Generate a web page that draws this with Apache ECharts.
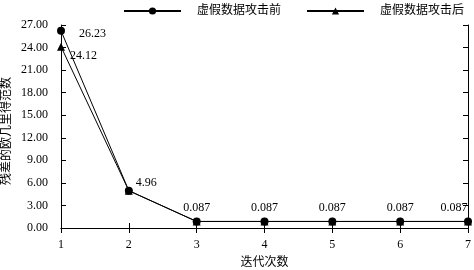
<!DOCTYPE html>
<html><head><meta charset="utf-8">
<script src="https://cdn.jsdelivr.net/npm/echarts@6/dist/echarts.min.js"></script>
<style>html,body{margin:0;padding:0;background:#fff}#c{width:474px;height:270px}</style>
</head><body><div id="c"></div>
<script>
var iterations = [1, 2, 3, 4, 5, 6, 7];
var beforeAttack = [26.23, 4.96, 0.87, 0.87, 0.87, 0.87, 0.87];
var afterAttack = [24.12, 4.96, 0.87, 0.87, 0.87, 0.87, 0.87];
var beforeLabels = ['26.23', '4.96', '0.087', '0.087', '0.087', '0.087', '0.087'];
var afterLabels = ['24.12', '', '', '', '', '', ''];
var seriesNames = ['虚假数据攻击前', '虚假数据攻击后'];

var FONT = '"Liberation Serif", "Noto Sans CJK SC", serif';
var beforeLabelStyle = [
  {position: 'right', offset: [9, 3]},
  {position: 'right', offset: [-2, -8]},
  {position: 'top', offset: [0, 1]},
  {position: 'top', offset: [0, 1]},
  {position: 'top', offset: [0, 1]},
  {position: 'top', offset: [0, 1]},
  {position: 'top', offset: [-14, 1]}
];
var afterLabelStyle = [{position: 'right', offset: [0, 9]}];

var d1 = iterations.map(function (x, i) {
  return {value: [x, beforeAttack[i]], label: Object.assign({show: true, formatter: beforeLabels[i]}, beforeLabelStyle[i])};
});
var d2 = iterations.map(function (x, i) {
  var o = {value: [x, afterAttack[i]]};
  if (afterLabels[i]) o.label = Object.assign({show: true, formatter: afterLabels[i]}, afterLabelStyle[i]);
  return o;
});

var chart = echarts.init(document.getElementById('c'));
var axisLine = {show: true, lineStyle: {color: '#000', width: 1}};
var legendText = {fontFamily: FONT, fontSize: 12, color: '#000', padding: [0, 0, 0, 11]};
chart.setOption({
  animation: false,
  textStyle: {fontFamily: FONT},
  legend: [{
    left: 118, top: 0, itemWidth: 57, itemHeight: 9, width: 200,
    textStyle: legendText, data: [seriesNames[0]]
  }, {
    left: 301, top: 0, itemWidth: 57, itemHeight: 9, width: 200,
    textStyle: legendText, data: [seriesNames[1]]
  }],
  grid: {left: 61, right: 6, top: 25, bottom: 42, outerBoundsMode: 'none', containLabel: false},
  xAxis: [{
    type: 'value', min: 1, max: 7, interval: 1,
    axisLine: axisLine, splitLine: {show: false},
    axisTick: {show: true, inside: true, length: 5, lineStyle: {color: '#000'}},
    axisLabel: {fontFamily: FONT, fontSize: 12, color: '#000', margin: 11},
    name: '迭代次数', nameLocation: 'middle', nameGap: 29, nameMoveOverlap: false,
    nameTextStyle: {fontFamily: FONT, fontSize: 12, color: '#000'}
  }, {
    type: 'value', min: 1, max: 7, interval: 1, position: 'top',
    axisLine: axisLine, splitLine: {show: false},
    axisTick: {show: true, inside: true, length: 5, lineStyle: {color: '#000'}},
    axisLabel: {show: false}
  }],
  yAxis: [{
    type: 'value', min: 0, max: 27, interval: 3,
    axisLine: axisLine, splitLine: {show: false},
    axisTick: {show: true, inside: true, length: 5, lineStyle: {color: '#000'}},
    axisLabel: {fontFamily: FONT, fontSize: 12, color: '#000', margin: 13,
      formatter: function (v) { return v.toFixed(2); }},
    name: '残差的欧几里得范数', nameLocation: 'middle', nameGap: 48, nameMoveOverlap: false,
    nameTextStyle: {fontFamily: FONT, fontSize: 12, color: '#000', padding: [0, 9, 0, 0]}
  }, {
    type: 'value', min: 0, max: 27, interval: 3, position: 'right',
    axisLine: axisLine, splitLine: {show: false},
    axisTick: {show: true, inside: true, length: 5, lineStyle: {color: '#000'}},
    axisLabel: {show: false}
  }],
  series: [{
    name: seriesNames[0], type: 'line', data: d1,
    symbol: 'circle', symbolSize: 8,
    itemStyle: {color: '#000'}, lineStyle: {color: '#000', width: 1},
    label: {fontFamily: FONT, fontSize: 12, color: '#000'},
    z: 3
  }, {
    name: seriesNames[1], type: 'line', data: d2,
    symbol: 'triangle', symbolSize: 8,
    itemStyle: {color: '#000'}, lineStyle: {color: '#000', width: 1},
    label: {fontFamily: FONT, fontSize: 12, color: '#000'},
    z: 2
  }]
});
</script></body></html>
